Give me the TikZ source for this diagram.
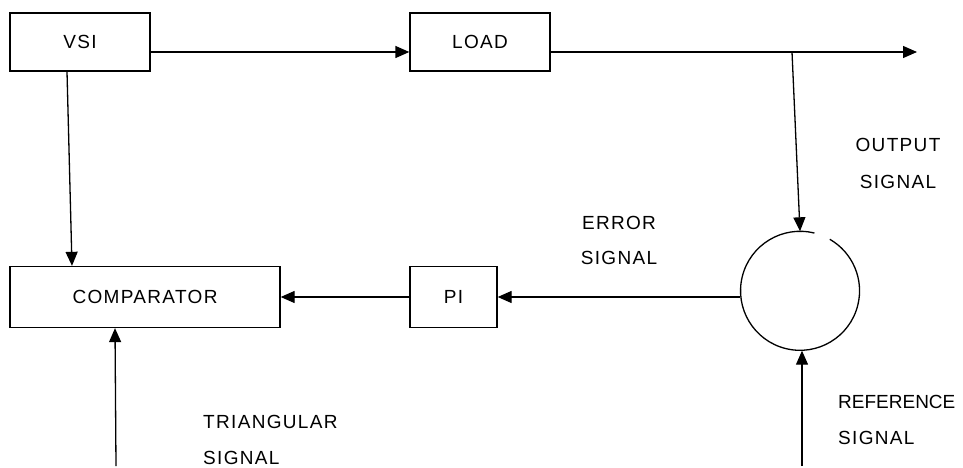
\documentclass[tikz,border=0pt]{standalone}
\usepackage{fontspec}
\setmainfont{Liberation Sans}[LetterSpace=7]
\usetikzlibrary{arrows.meta}
\begin{document}
\begin{tikzpicture}[x=1pt,y=-1pt,
  blk/.style={draw,line width=1.3pt,rectangle,inner sep=0pt,font=\fontsize{19}{21}\selectfont},
  lbl/.style={inner sep=0pt,font=\fontsize{19}{21}\selectfont},
  conn/.style={line width=1.3pt},
  arr/.style={conn,-{Triangle[length=14pt,width=12pt]}}]
\useasboundingbox (0,0) rectangle (963,468);
\node[blk,minimum width=140pt,minimum height=58pt] (vsi) at (80,42) {VSI};
\node[blk,minimum width=140pt,minimum height=58pt] (load) at (480,42) {LOAD};
\node[blk,minimum width=270pt,minimum height=61pt] (comp) at (145,297) {COMPARATOR};
\node[blk,minimum width=87pt,minimum height=61pt] (pi) at (453.5,297) {PI};
\node[circle,draw=none,minimum size=119pt,inner sep=0pt] (sum) at (800,291) {};
\draw[line width=1.3pt] (sum.76) arc[start angle=76,end angle=420,radius=59.5pt];
\coordinate (out) at (917,52);
\coordinate (br) at (792,52);
\coordinate (tri) at (116,466);
\coordinate (ref) at (802,466);
\draw[arr] ([yshift=-10pt]vsi.east) -- ([yshift=-10pt]load.west);
\draw[arr] ([yshift=-10pt]load.east) -- (out);
\draw[arr] (br) -- (sum.north);
\draw[arr] ([xshift=-13pt]vsi.south) -- ([xshift=-73pt]comp.north);
\draw[arr] (pi.west) -- (comp.east);
\draw[arr] ([yshift=-6pt]sum.west) -- (pi.east);
\draw[arr] (tri) -- ([xshift=-30pt]comp.south);
\draw[arr] (ref) -- ([xshift=2pt]sum.south);
\node[lbl] (o1) at (898,145) {OUTPUT};
\node[lbl] (o2) at (898,182) {SIGNAL};
\node[lbl] (e1) at (619,223) {ERROR};
\node[lbl] (e2) at (619,258) {SIGNAL};
\node[lbl,anchor=west] (t1) at (203,422) {TRIANGULAR};
\node[lbl,anchor=west] (t2) at (203,458) {SIGNAL};
\node[lbl,anchor=west] (r1) at (838,402) {\addfontfeature{LetterSpace=0}REFERENCE};
\node[lbl,anchor=west] (r2) at (838,438) {SIGNAL};
\end{tikzpicture}
\end{document}
